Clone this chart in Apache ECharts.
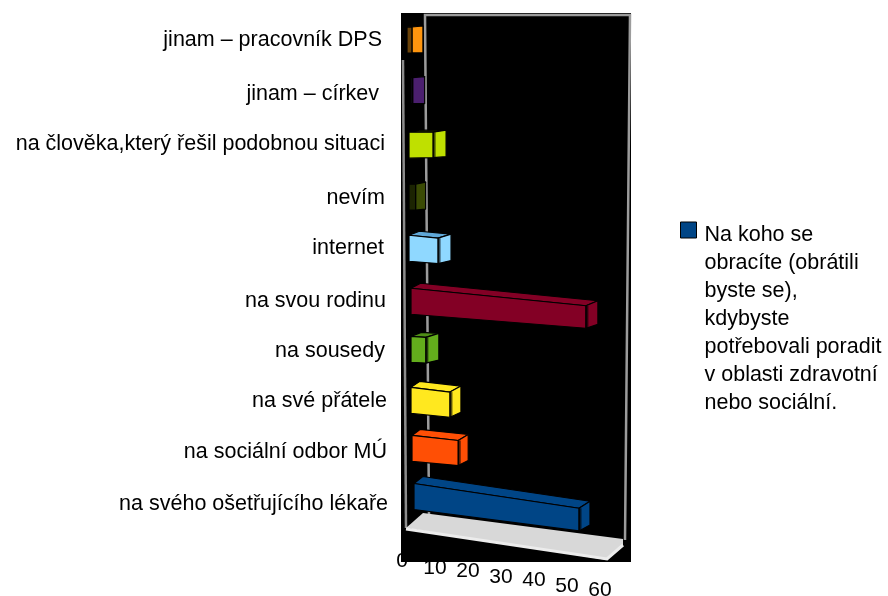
<!DOCTYPE html>
<html><head><meta charset="utf-8">
<style>html,body{margin:0;padding:0;background:#fff}#c{width:888px;height:596px}</style>
<script src="https://cdn.jsdelivr.net/npm/echarts@6/dist/echarts.min.js"></script></head>
<body><div id="c"></div>
<script>
const categories = ["jinam – pracovník DPS","jinam – církev","na člověka,který řešil podobnou situaci","nevím","internet","na svou rodinu","na sousedy","na své přátele","na sociální odbor MÚ","na svého ošetřujícího lékaře"];
const values = [1.5,0.5,7.3,2,8.8,53,4.5,11.8,14,50];
const tickLabels = ["0","10","20","30","40","50","60"];
const seriesName = "Na koho se\nobracíte (obrátili\nbyste se),\nkdybyste\npotřebovali poradit\nv oblasti zdravotní\nnebo sociální.";

const palette = ["#ff950e","#4b1f6f","#bfe000","#3a4a04","#8fd8ff","#830025","#63ad1c","#ffe81f","#ff4f05","#004586"];
const frontShade = ["#6b4208","#1a0b28",null,"#1c2402",null,null,null,null,null,null];
const topShade = [null,null,"#3f4a00","#1f2600","#5fa8d8","#830025","#4f8f16","#ffe81f","#ff4f05","#004586"];
// perspective of the fake-3D projection, per row
const baseX = [5,9,7,7,7,9,9,9,10,12];
const rowDy = [1,0,3,3.5,3,4.5,1,0.5,-3,-6.5];
const slope = [0,0,0,0,.1,.1,.07,.12,.11,.15];
const depthX = [11,12,13,10,13,12,13,11,10,11];
const depthY = [-1,-1,-2,-2,-4,-5,-4,-6,-6,-7];
const labelDy = [1,4,2,4.5,3,4.5,3,1.5,1,1.5];
const labelRight = [388-382,388-379,388-385,388-385,388-384,388-386,388-385,388-387,388-387,0];
const tickPad = [5,12,15,21,24,30,34];

function poly(points, fill, z2) {
  return {type:'polygon', shape:{points}, style:{fill, stroke:'#000', lineWidth:1.2, lineJoin:'round'}, z2};
}
function renderBar(params, api) {
  const i = api.value(1), v = api.value(0);
  const p0 = api.coord([0,i]), p1 = api.coord([v,i]);
  const x0 = p0[0]+baseX[i], x1 = p1[0]+baseX[i], w = x1-x0;
  const yc = p0[1]+rowDy[i], h = 26, s = slope[i];
  const c = palette[i];
  const A=[x0,yc-h/2], B=[x1,yc-h/2+s*w], C=[x1,yc+h/2+(s-.02)*w], D=[x0,yc+h/2];
  const dx=depthX[i], dy=depthY[i];
  const B2=[B[0]+dx,B[1]+dy], C2=[C[0]+dx,C[1]+dy+1], A2=[A[0]+dx*.8,A[1]+dy];
  const kids = [
    poly([A,A2,B2,B], topShade[i]||c, 1),
    poly([B,B2,C2,C], c, 2),
    poly([A,B,C,D], frontShade[i]||c, 3)
  ];
  if (!frontShade[i] && w>3) kids.push({type:'line',shape:{x1:B[0]+1,y1:B[1],x2:C[0]+1,y2:C[1]},
    style:{stroke:'rgba(0,0,0,0.65)',lineWidth:3},z2:4});
  return {type:'group', children:kids};
}
const rowRich = {}; categories.forEach((_,i)=>{
  const d=labelDy[i]*2;
  rowRich['r'+i]={padding:[d,labelRight[i],0,0],fontSize:21.5,color:'#000',fontFamily:'Liberation Sans'};
});
const tickRich = {}; tickLabels.forEach((_,i)=>{
  tickRich['t'+i]={padding:[tickPad[i],0,0,0],fontSize:21,color:'#000',fontFamily:'Liberation Sans'};
});
const chart = echarts.init(document.getElementById('c'),null,{renderer:'canvas'});
chart.setOption({
  animation:false,
  backgroundColor:'#fff',
  grid:{left:402,width:198,top:13.25,height:515.5,outerBoundsMode:'none'},
  graphic:[
    {type:'rect',z:-5,silent:true,shape:{x:401,y:13,width:230,height:549},style:{fill:'#000'}},
    {type:'polyline',z:-4,silent:true,shape:{points:[[403,60],[406,528]]},style:{stroke:'#8c8c8c',lineWidth:2.5,fill:null}},
    {type:'polyline',z:-4,silent:true,shape:{points:[[429,514],[425,15],[630,15],[625,540]]},style:{stroke:'#9c9c9c',lineWidth:2.5,fill:null}},
    {type:'polygon',z:-4,silent:true,shape:{points:[[406,528],[423,513],[623,539],[623,545],[607,560]]},style:{fill:'#d8d8d8'}},
    {type:'polyline',z:-3,silent:true,shape:{points:[[406,529],[607,559],[623,545]]},style:{stroke:'#ececec',lineWidth:3,fill:null}}
  ],
  legend:{
    left:675, top:216, orient:'vertical', selectedMode:false,
    itemWidth:19, itemHeight:196, itemGap:0,
    data:[{name:seriesName, icon:'path://M0 2H16V18H0ZM19 196H19V196Z', itemStyle:{color:'#004586',borderColor:'#000',borderWidth:1}}],
    textStyle:{fontSize:21.5,lineHeight:28,color:'#000',fontFamily:'Liberation Sans'}
  },
  xAxis:{type:'value',min:0,max:60,interval:10,
    axisLine:{show:false},axisTick:{show:false},splitLine:{show:false},
    axisLabel:{margin:17,showMinLabel:true,showMaxLabel:true,
      formatter:(v)=>{const i=tickLabels.indexOf(String(v));return '{t'+i+'|'+tickLabels[i]+'}';},rich:tickRich}},
  yAxis:{type:'category',inverse:true,data:categories,
    axisLine:{show:false},axisTick:{show:false},splitLine:{show:false},
    axisLabel:{margin:14,interval:0,
      formatter:(v,i)=>'{r'+i+'|'+v+'}',rich:rowRich}},
  series:[{type:'custom',name:seriesName,renderItem:renderBar,coordinateSystem:'cartesian2d',clip:false,
    encode:{x:0,y:1},itemStyle:{color:'#004586'},
    data:values.map((v,i)=>[v,i])}]
});
</script></body></html>
